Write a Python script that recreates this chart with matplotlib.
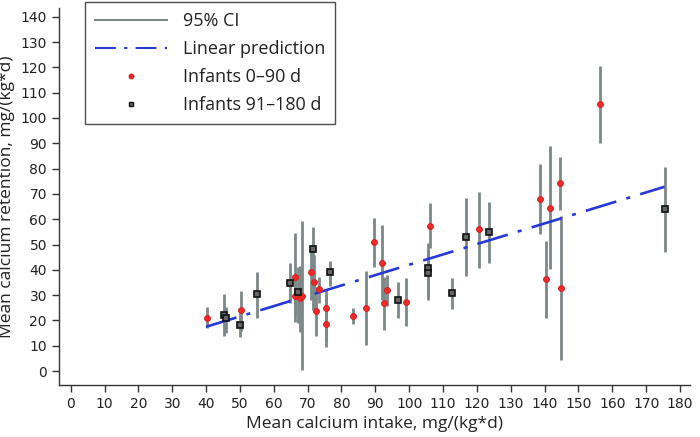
import matplotlib
matplotlib.use("Agg")
import matplotlib.pyplot as plt
from matplotlib.lines import Line2D

plt.rcParams['font.family'] = ['Open Sans', 'DejaVu Sans']

# Infants 0-90 d (red)
red_x = [40.3, 50.2, 66.3, 66.2, 67.7, 68.4, 70.9, 71.8, 72.6, 73.3, 75.3, 75.3, 83.5, 87.1,
         89.5, 91.9, 92.6, 93.5, 99.2, 106.2, 120.6, 138.6, 140.3, 141.6, 144.6, 144.8, 156.5]
red_y = [21.1, 24.0, 37.2, 29.8, 28.7, 29.8, 39.3, 35.1, 23.8, 32.5, 24.8, 18.6, 21.9, 25.0,
         50.9, 42.8, 26.8, 32.0, 27.4, 57.5, 56.0, 68.1, 36.3, 64.5, 74.3, 32.8, 105.4]
red_lo = [17.1, 16.0, 19.5, 22.0, 15.5, 0.4, 28.0, 24.0, 13.8, 27.0, 12.0, 9.6, 18.5, 10.3,
          41.2, 28.1, 16.2, 25.7, 17.8, 48.5, 40.8, 54.2, 20.8, 40.2, 63.7, 4.3, 90.3]
red_hi = [25.2, 31.6, 54.7, 38.0, 41.5, 59.4, 47.8, 46.0, 33.3, 37.0, 30.0, 32.0, 25.1, 39.7,
          60.6, 57.7, 37.0, 38.0, 36.9, 66.3, 70.9, 81.7, 51.5, 89.0, 84.7, 61.3, 120.5]

# Infants 91-180 d (black)
blk_x = [45.3, 46.0, 50.0, 54.9, 64.7, 67.1, 71.7, 76.6, 96.8, 105.6, 105.6, 112.7, 116.7, 123.5, 175.6]
blk_y = [22.0, 21.1, 18.1, 30.3, 34.9, 31.4, 48.1, 39.0, 27.9, 40.9, 38.7, 31.0, 53.1, 54.8, 64.1]
blk_lo = [13.8, 14.9, 13.3, 21.1, 26.7, 18.8, 24.1, 33.5, 20.8, 28.1, 30.0, 24.5, 37.7, 42.6, 47.2]
blk_hi = [30.3, 25.4, 25.0, 39.3, 42.8, 41.2, 56.8, 43.6, 35.1, 50.5, 48.0, 36.9, 68.3, 66.9, 80.8]

# Linear prediction endpoints
pred_x = [40.0, 175.4]
pred_y = [17.5, 72.8]

x_ticks = list(range(0, 181, 10))
y_ticks = list(range(0, 141, 10))

ci_color = '#7d8888'
blue = '#2638d8'

fig = plt.figure(figsize=(7, 4.37), dpi=100)
ax = fig.add_axes([0.084, 0.119, 0.902, 0.863])

ax.vlines(red_x, red_lo, red_hi, color=ci_color, lw=2.0, zorder=2)
ax.vlines(blk_x, blk_lo, blk_hi, color=ci_color, lw=2.0, zorder=2)
ax.plot(pred_x, pred_y, color=blue, lw=1.9, dashes=(12, 4, 1.5, 4), zorder=3)
ax.plot(red_x, red_y, 'o', ms=4.2, mfc='#f02a2a', mec='#d81e1e', mew=0.7, ls='none', zorder=4)
ax.plot(blk_x, blk_y, 's', ms=4.3, mfc='#666666', mec='#111111', mew=1.2, ls='none', zorder=4)

ax.set_xlim(-3.5, 183)
ax.set_ylim(-5.5, 143.5)
ax.set_xticks(x_ticks)
ax.set_yticks(y_ticks)
ax.spines['top'].set_visible(False)
ax.spines['right'].set_visible(False)
for s in ('left', 'bottom'):
    ax.spines[s].set_color('#333333')
    ax.spines[s].set_linewidth(1.0)
ax.tick_params(direction='out', length=5, width=1, color='#333333',
               labelsize=10, labelcolor='#222222')
for lab in ax.get_xticklabels() + ax.get_yticklabels():
    lab.set_family(['Liberation Sans Narrow', 'DejaVu Sans'])

ax.set_xlabel('Mean calcium intake, mg/(kg*d)', fontsize=12.5, color='#222222', labelpad=4)
ax.set_ylabel('Mean calcium retention, mg/(kg*d)', fontsize=12.5, color='#222222', labelpad=4)

handles = [
    Line2D([], [], color=ci_color, lw=1.5),
    Line2D([], [], color=blue, lw=1.5, dashes=(10, 4, 1.5, 4)),
    Line2D([], [], marker='o', ms=3.2, mfc='#f02a2a', mec='#d81e1e', ls='none'),
    Line2D([], [], marker='s', ms=3.2, mfc='#666666', mec='#111111', ls='none'),
]
labels = ['95% CI', 'Linear prediction', 'Infants 0\u201390 d', 'Infants 91\u2013180 d']
leg = fig.legend(handles, labels, loc='upper left', bbox_to_anchor=(0.121, 0.995),
                 borderaxespad=0, fontsize=13, frameon=True, fancybox=False,
                 edgecolor='#222222', handlelength=4.0, handletextpad=0.9,
                 borderpad=0.55, labelspacing=0.55)
leg.get_frame().set_linewidth(1.0)
for t in leg.get_texts():
    t.set_color('#222222')

fig.savefig('out.png', dpi=100)
